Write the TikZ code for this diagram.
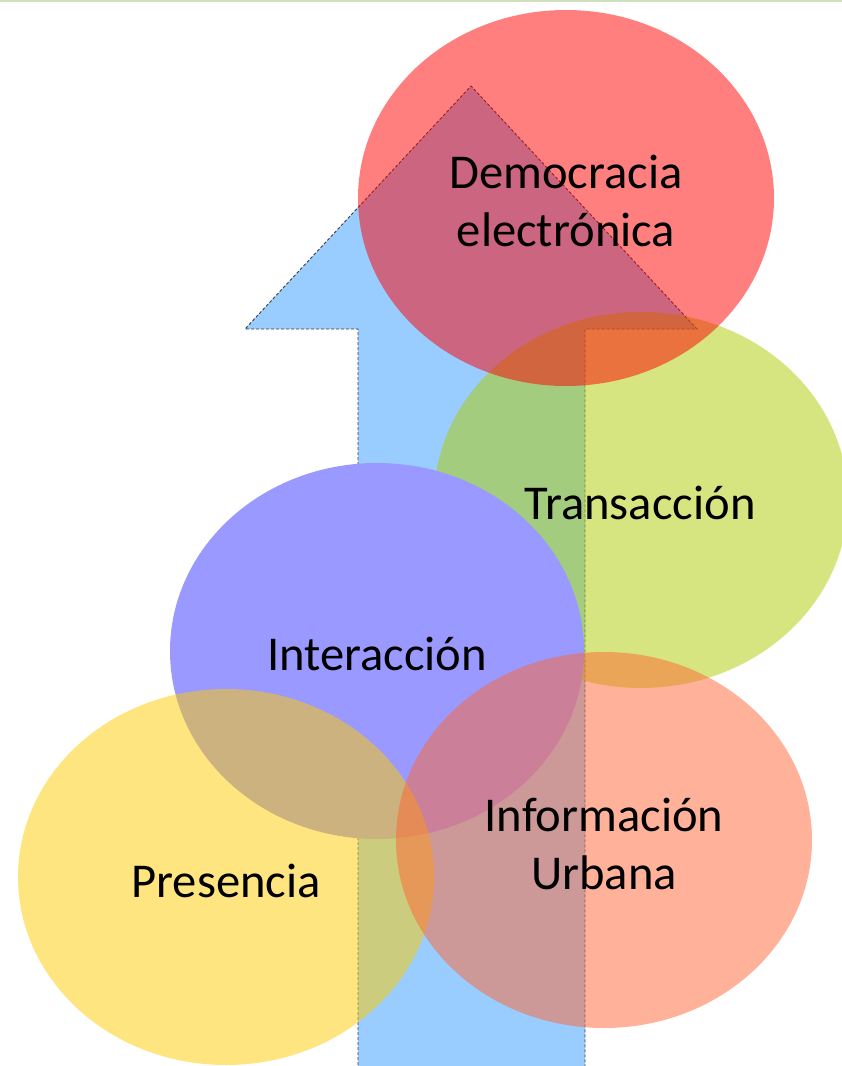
\documentclass[tikz,border=0pt]{standalone}
\usepackage{fontspec}
\setmainfont{Carlito}
\definecolor{arrowblue}{RGB}{153,204,255}
\definecolor{dred}{RGB}{255,0,0}
\definecolor{tgreen}{RGB}{173,204,0}
\definecolor{iblue}{RGB}{153,153,255}
\definecolor{pyellow}{RGB}{255,204,0}
\definecolor{usalmon}{RGB}{255,102,51}
\definecolor{topline}{RGB}{208,224,188}
\definecolor{dashgray}{RGB}{60,60,60}
\tikzset{
  bubble/.style={draw=none},
  lbl/.style={font=\fontsize{48.6}{58}\selectfont, align=center, inner sep=0pt, text=black},
  arrowline/.style={draw=dashgray, line width=0.9pt, dash pattern=on 3pt off 2pt, fill=arrowblue}
}
\begin{document}
\begin{tikzpicture}[x=1pt,y=-1pt]
\useasboundingbox (0,0) rectangle (842,1066);
\clip (0,0) rectangle (842,1066);
% arrow
\path[arrowline] (358,1080) -- (358,329) -- (245,329) -- (471,86) -- (697,329) -- (585,329) -- (585,1080);
% ellipses
\fill[tgreen, opacity=0.5] (641,500) ellipse [x radius=207, y radius=188];
\fill[dred, opacity=0.5] (566,198) ellipse [x radius=208, y radius=188];
\fill[iblue] (377,651) ellipse [x radius=207, y radius=188];
\fill[pyellow, opacity=0.5] (226,877) ellipse [x radius=208, y radius=188];
\fill[usalmon, opacity=0.5] (604,840) ellipse [x radius=208, y radius=188];
% top line
\draw[topline, line width=2pt] (0,1) -- (842,1);
% labels
\node[lbl] (dem) at (566,201) {Democracia\\electrónica};
\node[lbl] (tra) at (640,503) {Transacción};
\node[lbl] (int) at (377,654) {Interacción};
\node[lbl] (pre) at (226,881) {Presencia};
\node[lbl] (inf) at (604,844) {Información\\Urbana};
\end{tikzpicture}
\end{document}
